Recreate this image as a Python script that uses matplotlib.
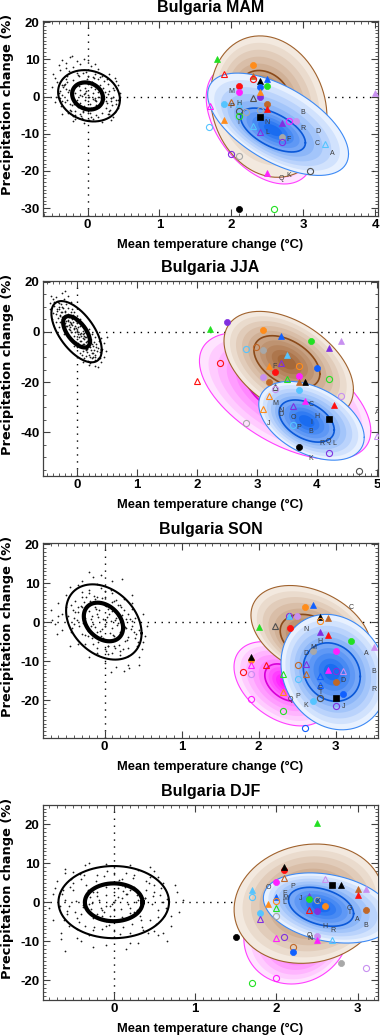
import numpy as np
import matplotlib
matplotlib.use('Agg')
import matplotlib.pyplot as plt
import matplotlib.colors as mcolors
from matplotlib.ticker import MultipleLocator

plt.rcParams['font.family'] = ['Liberation Sans', 'DejaVu Sans']
plt.rcParams['axes.unicode_minus'] = False

# --------------------------
# Marker colour codes
# --------------------------
COLORS = {'k': '#000000', 'r': '#ff1010', 'o': '#ff8c1a', 'g': '#22e022',
          'b': '#1060ff', 'c': '#55c4ff', 'p': '#8030e0', 'l': '#c890f0',
          'm': '#ff20ff', 'n': '#c06828', 'a': '#a8a8a8', 'd': '#505050'}

# --------------------------
# MAM
# --------------------------
mam_mx = [1.80, 1.90, 1.70, 1.69, 1.90, 2.30, 2.30, 2.30, 2.40, 2.50, 2.40, 2.50, 2.10, 2.10,
          2.30, 2.40, 2.40, 2.50, 2.50, 1.90, 2.00, 2.10, 2.10, 2.10, 2.20, 2.40, 2.40, 2.30,
          2.40, 2.70, 2.80, 2.90, 2.70, 2.70, 3.30, 2.00, 2.10, 2.50, 3.10, 2.10, 2.60, 4.00]
mam_my = [10.0, 6.0, -2.6, -8.3, -6.4, 8.6, 5.5, 4.6, 4.2, 4.7, 2.5, 2.8, 2.7, 1.3,
          -0.4, 0.0, 1.2, -2.1, -3.3, -2.1, -1.5, -2.1, -3.9, -5.1, -4.2, -3.6, -5.5, -7.9,
          -9.4, -7.1, -6.6, -6.7, -10.8, -12.1, -12.7, -15.4, -16.1, -20.5, -20.1, -30.3, -30.3, 1.0]
mam_ms = ['g^f', 'r^e', 'm^e', 'coe', 'o^f', 'oof', 'n^f', 'roe', 'k^f', 'b^f', 'bof', 'gof', 'rof', 'mof',
          'd^e', 'pof', 'o^f', 'nof', 'r^f', 'cof', 'n^e', 'c^e', 'doe', 'goe', 'aoe', 'aoe', 'ksf', 'c^e',
          'p^e', 'p^f', 'moe', 'lof', 'aof', 'poe', 'c^e', 'poe', 'aoe', 'm^f', 'doe', 'kof', 'goe', 'l^f']
mam_lt = ['M', 'P', 'H', 'I', 'N', 'L', 'F', 'B', 'R', 'D', 'C', 'A', 'Q', 'K']
mam_lx = [2.00, 2.00, 2.10, 2.10, 2.50, 2.50, 2.80, 3.00, 3.00, 3.20, 3.20, 3.40, 2.70, 2.80]
mam_ly = [1.3, -2.6, -2.0, -7.1, -7.1, -9.7, -11.6, -4.4, -8.5, -9.4, -12.7, -15.4, -21.9, -21.3]
mam_cx = [0.0, -0.1, 0.1, 0.05, -0.15, 0.15, -0.05, 0.12, -0.12, 0.02, 0.08, -0.08, 0.18, -0.18, 0.0,
          0.05, -0.02, 0.1, -0.1, 0.14, -0.3, -0.32, 0.3, 0.32, -0.2, 0.15, 0.0, -0.1, 0.2, 0.05,
          -0.35, 0.36, -0.25, 0.28, 0.25, -0.28, -0.4, 0.4, 0.1, -0.15, -0.45, -0.38, -0.3, -0.25,
          -0.15, -0.05, -0.2, -0.4, -0.48, 0.05, 0.0, 0.3, 0.42, 0.45, 0.43, 0.35, -0.05, -0.2,
          -0.45, -0.5, 0.2, 0.38, -0.35, 0.22, -0.22, 0.06, -0.06, 0.33, -0.33, 0.1,
          -0.05, 0.07, -0.13, 0.13, -0.22, 0.22, -0.27, 0.27, -0.33, 0.33, -0.37, 0.37, 0.0, 0.0,
          -0.08, 0.08, -0.17, 0.17, -0.02, 0.02, -0.24, 0.24, -0.3, 0.3, -0.12, 0.12, -0.38, 0.38,
          0.04, -0.04, -0.2, 0.2, -0.28, 0.28, -0.42, -0.35, -0.3, -0.22, -0.1, 0.15, 0.3, 0.4,
          0.32, -0.44, -0.18, 0.1, -0.36, 0.42, 0.0, -0.26,
          0.01, -0.03, 0.06, -0.07, 0.11, -0.11, 0.16, -0.16, 0.19, -0.19, 0.23, -0.23, 0.26, -0.26,
          0.29, -0.29, 0.34, -0.34, 0.09, -0.09, 0.03, -0.01, 0.14, -0.14, 0.21, -0.21, 0.31, -0.31,
          0.36, -0.36, 0.07, -0.06, 0.17, -0.17, 0.27, -0.27, 0.39, -0.39, 0.12, -0.04]
mam_cy = [0.5, 1.8, -1.0, 2.5, -0.8, 1.2, -2.5, -2.2, 2.8, -0.2, 0.9, 0.2, -0.3, 1.0, 3.3,
          -3.1, 1.4, 2.0, -1.7, 0.0, 2.0, -1.5, 1.5, -1.2, 4.5, 4.8, 5.5, -4.8, -4.3, -5.5,
          0.5, 0.0, -3.5, 3.5, -3.0, 3.8, 1.0, -2.0, 6.0, 6.2, 5.0, 7.0, 9.0, 10.5,
          9.5, 10.2, 8.0, 8.5, 6.0, 8.2, 9.8, 6.0, 3.0, 1.0, -3.0, -5.5, -7.0, -6.5,
          -1.5, 2.5, -6.8, 5.0, -4.8, 2.2, -2.4, 4.0, -4.2, -0.5, 3.0, -0.8,
          0.8, -0.6, -2.9, 2.6, 0.4, -0.7, 1.3, -1.8, 3.2, -0.5, -2.6, 1.8, -4.5, 4.0,
          -5.8, 5.2, -3.8, 3.0, 6.5, -6.2, -1.9, 1.2, 4.8, -4.6, 5.6, -5.0, -0.3, -4.2,
          -1.9, 2.2, -5.2, 5.6, 5.6, -4.8, 3.8, 9.8, 7.8, 10.8, 8.8, 7.5, -3.8, 4.2,
          -6.2, 0.0, -5.9, 8.7, 3.0, -1.0, -6.4, 6.8,
          -1.2, 1.0, 3.9, -3.9, -0.5, 0.4, -2.8, 2.9, 1.9, -1.9, 4.1, -4.0, -1.1, 1.7,
          0.8, -0.9, -2.3, 2.6, 5.0, -5.1, -4.4, 4.6, -5.4, 5.8, -0.2, 0.0, -3.6, 3.3,
          2.4, -1.1, -6.0, 6.3, 5.2, -4.9, 4.6, -4.3, -0.9, 1.4, -1.3, -1.0]
mam_ell = {'black_out': (0.02, 0.2, 0.43, 6.9, -0.15), 'black_in': (0.0, 0.15, 0.215, 3.65, -0.15),
           'mag_out': (2.40, -7.5, 0.75, 16.0, -0.45), 'mag_in': (2.45, -8.0, 0.35, 7.5, -0.45),
           'brn_out': (2.52, -2.7, 0.81, 19.0, -0.15), 'brn_in': (2.47, 0.5, 0.35, 6.5, -0.25),
           'blu_out': (2.65, -7.45, 0.98, 13.75, -0.58), 'blu_in': (2.58, -9.0, 0.45, 5.9, -0.58)}

# --------------------------
# JJA
# --------------------------
jja_mx = [2.21, 2.50, 2.00, 2.39, 2.81, 2.99, 3.10, 3.10, 3.40, 3.90, 4.20, 4.40, 3.50, 3.40,
          3.20, 3.30, 3.70, 4.00, 3.10, 3.20, 3.50, 3.70, 3.80, 3.70, 4.20, 3.30, 3.30, 3.70,
          3.20, 3.10, 3.80, 3.60, 4.29, 4.40, 4.20, 3.60, 2.81, 3.70, 4.20, 4.70, 5.00]
jja_my = [1.1, 4.0, -19.4, -12.5, -6.9, -5.9, -7.3, 0.7, -1.6, -3.6, -6.5, -3.6, -9.2, -12.5,
          -13.5, -15.8, -13.6, -14.4, -18.1, -19.8, -18.7, -17.7, -19.8, -20.1, -18.7, -21.8, -22.7, -23.0,
          -25.7, -30.6, -27.6, -29.6, -29.0, -25.6, -34.6, -37.2, -36.2, -45.8, -48.2, -55.4, -41.5]
jja_ms = ['g^f', 'pof', 'r^e', 'roe', 'coe', 'noe', 'aof', 'oof', 'b^f', 'gof', 'p^f', 'l^f', 'c^f', 'p^e',
          'o^f', 'rof', 'ooe', 'bof', 'lof', 'nof', 'g^e', 'mof', 'k^f', 'n^f', 'goe', 'd^e', 'loe', 'cof',
          'o^e', 'o^e', 'm^f', 'p^e', 'r^f', 'loe', 'ksf', 'coe', 'aoe', 'kof', 'poe', 'doe', 'l^e']
jja_lt = ['F', 'M', 'N', 'D', 'C', 'H', 'O', 'I', 'P', 'B', 'J', 'R', 'Q', 'L', 'K', 'A']
jja_lx = [3.30, 3.30, 3.40, 3.40, 3.90, 4.00, 3.60, 3.90, 3.70, 3.90, 3.20, 4.09, 4.20, 4.29, 3.90, 5.00]
jja_ly = [-13.7, -28.6, -31.3, -32.9, -28.9, -33.5, -34.2, -36.2, -37.9, -39.6, -36.6, -44.5, -43.6,
          -44.5, -50.4, -32.2]
jja_cx = [0.0, -0.1, 0.1, -0.05, 0.05, -0.15, 0.15, -0.2, 0.2, 0.0, 0.0, -0.1, 0.1, -0.08, 0.08,
          0.12, -0.12, 0.05, -0.05, 0.18, -0.18, 0.02, -0.02, -0.3, -0.35, -0.25, -0.2, -0.28, -0.15,
          0.3, 0.35, 0.25, 0.2, 0.28, 0.15, 0.1, -0.1, 0.3, -0.3, 0.2, -0.22, 0.38, -0.38, 0.05,
          -0.05, -0.4, -0.35, -0.25, -0.15, -0.45, -0.42, -0.2, 0.45, 0.4, 0.3, 0.2, 0.45, 0.5,
          0.4, 0.35, 0.1, -0.1, 0.12, 0.25, -0.45, -0.25, 0.22, -0.12, 0.15, -0.32,
          -0.02, 0.03, -0.07, 0.07, -0.13, 0.13, -0.17, 0.17, -0.23, 0.23, -0.27, 0.27, -0.33, 0.33,
          -0.1, 0.1, -0.2, 0.2, 0.0, 0.05, -0.05, -0.15, 0.15, -0.25, 0.25, -0.3, 0.3, -0.38,
          0.38, -0.4, 0.42, -0.32, 0.32, -0.08, 0.08, -0.18, 0.18, 0.0, -0.12, 0.12, -0.28, 0.28,
          0.48, -0.43, 0.36, -0.36, 0.22, -0.22, 0.14, -0.14,
          0.01, -0.03, 0.06, -0.06, 0.11, -0.11, 0.16, -0.16, 0.21, -0.21, 0.26, -0.26, 0.31, -0.31,
          0.09, -0.09, 0.14, -0.14, 0.19, -0.19, 0.24, -0.24, 0.29, -0.29, 0.04, -0.04, 0.34, -0.34,
          0.12, -0.12, 0.17, -0.17, 0.07, -0.07, 0.27, -0.27, 0.02, -0.02, 0.22, -0.22]
jja_cy = [0.5, 3.0, -2.5, 1.5, -1.0, 4.5, -4.0, 5.5, -5.0, 3.5, -3.0, 0.0, 0.5, 5.0, -5.2,
          -1.5, 2.0, 2.2, -1.8, -2.2, 2.5, -4.5, 4.2, 9.0, 7.0, 10.0, 8.5, 4.0, 9.5,
          -9.0, -6.5, -10.5, -9.0, -4.0, -9.5, -7.5, 7.8, -2.0, 2.0, 1.0, -1.0, -8.0, 10.5, -8.5,
          8.0, 13.0, 14.0, 15.5, 14.5, 9.0, 5.0, 16.5, -10.0, -12.0, -13.5, -13.0, -4.5, -2.0,
          -2.5, -14.0, -12.0, 12.0, -10.5, -1.0, 11.5, 6.0, -6.0, 6.5, -6.8, 12.0,
          1.5, -2.0, 3.8, -3.5, 2.8, -2.2, 6.5, -6.8, 6.0, -7.0, 11.0, -10.0, 8.5, -7.5,
          5.8, -4.8, 3.5, -3.0, -6.0, 5.0, -5.5, 7.0, -7.2, 8.0, -8.2, 11.5, -11.0, 12.0,
          -10.5, 7.5, -6.8, 5.5, -5.0, 9.0, -9.2, 11.2, -11.5, 0.0, 0.8, -0.5, 6.5, -7.0,
          -7.5, 14.5, -3.5, 3.8, -12.5, 13.0, -2.0, 1.0,
          -0.8, 2.2, -0.5, 1.0, -4.8, 3.6, -3.5, 4.8, -4.2, 7.8, -8.5, 5.0, -6.0, 10.0,
          -1.0, 2.8, -6.5, 6.0, -1.5, 4.5, -5.0, 9.5, -9.8, 6.8, -3.5, -0.2, -10.5, 9.2,
          -3.0, 4.0, -8.0, 2.5, -1.8, 6.8, -5.5, 8.0, 2.0, -4.0, -10.0, 3.0]
jja_ell = {'black_out': (-0.01, 0.1, 0.42, 12.2, -0.6), 'black_in': (-0.01, 0.05, 0.224, 6.25, -0.6),
           'mag_out': (3.47, -25.5, 1.43, 25.3, -0.55), 'mag_in': (3.50, -24.0, 0.70, 12.0, -0.55),
           'brn_out': (3.53, -13.3, 1.08, 21.5, -0.45), 'brn_in': (3.50, -12.0, 0.55, 10.5, -0.45),
           'blu_out': (3.91, -35.4, 0.88, 15.7, -0.42), 'blu_in': (3.83, -35.5, 0.46, 8.4, -0.42)}

# --------------------------
# SON
# --------------------------
son_mx = [2.60, 2.70, 2.40, 2.40, 2.50, 2.21, 2.01, 2.41, 2.80, 2.80, 2.90, 2.80, 2.90, 3.20, 2.71,
          3.00, 3.50, 1.90, 1.90, 1.90, 2.10, 1.80, 1.90, 2.31, 2.51, 2.61, 2.51, 2.61, 2.80, 2.80,
          2.90, 3.00, 3.10, 3.00, 2.31, 2.80, 3.00, 3.10, 2.70, 3.00, 1.90, 2.31, 2.60]
son_my = [3.9, 4.3, 1.7, 1.5, 1.5, -0.9, -1.2, -1.6, 1.4, 0.4, 1.1, -2.5, -3.2, -4.7, -7.3,
          -7.3, -6.3, -9.6, -9.0, -11.1, -11.1, -12.7, -13.4, -13.2, -11.1, -10.6, -14.5, -13.4, -13.8, -16.2,
          -12.3, -12.6, -12.6, -15.3, -17.9, -19.4, -19.4, -18.3, -20.1, -21.5, -19.8, -22.8, -27.1]
son_ms = ['oof', 'b^f', 'poe', 'c^f', 'lof', 'd^e', 'g^f', 'rof', 'k^f', 'ooe', 'n^f', 'p^f', 'r^f', 'gof', 'aof',
          'mof', 'l^f', 'oof', 'k^f', 'm^e', 'r^e', 'roe', 'loe', 'g^e', 'noe', 'p^e', 'coe', 'n^e', 'b^e', 'b^e',
          'm^f', 'poe', 'l^e', 'nof', 'o^e', 'doe', 'ksf', 'bof', 'cof', 'poe', 'moe', 'goe', 'boe']
son_lt = ['C', 'N', 'H', 'M', 'D', 'A', 'B', 'D', 'E', 'I', 'R', 'Q', 'P', 'K', 'J']
son_lx = [3.20, 2.61, 2.80, 2.71, 2.61, 3.40, 3.50, 3.10, 2.80, 2.80, 3.50, 2.41, 2.51, 2.61, 3.10]
son_ly = [3.7, -1.9, -5.0, -6.4, -8.0, -8.0, -12.7, -15.0, -17.0, -18.1, -17.3, -19.8, -19.0, -21.4, -21.5]
son_cx = [0.0, -0.1, 0.1, 0.15, -0.15, 0.05, -0.05, 0.2, -0.2, 0.0, 0.08, -0.08, 0.18, -0.18, 0.1,
          -0.1, 0.02, -0.02, 0.12, -0.12, -0.35, -0.4, -0.3, -0.2, 0.0, 0.2, 0.35, 0.4, 0.3, 0.1,
          -0.1, -0.3, 0.3, -0.25, 0.2, -0.42, 0.42, -0.1, 0.05, 0.35, -0.38, 0.25, -0.6, -0.7,
          -0.65, -0.55, -0.5, -0.45, -0.3, -0.15, -0.2, 0.1, 0.35, 0.5, 0.55, 0.5, 0.45, 0.3,
          0.25, 0.0, -0.2, -0.45, 0.15, -0.1, -0.6, 0.45, -0.5, 0.28, -0.28, 0.12,
          0.03, -0.03, 0.07, -0.07, 0.13, -0.13, 0.17, -0.17, 0.22, -0.22, 0.27, -0.27, 0.33, -0.33,
          0.38, -0.38, 0.43, -0.43, 0.0, 0.0, 0.1, -0.1, 0.2, -0.2, 0.3, -0.3, 0.15, -0.15,
          0.25, -0.25, 0.35, -0.35, 0.05, -0.05, 0.4, -0.4, 0.45, -0.47, 0.12, -0.12, -0.55, -0.62,
          0.52, 0.48, -0.35, 0.22, -0.05, 0.32, -0.68, 0.08,
          0.01, -0.02, 0.06, -0.06, 0.11, -0.11, 0.16, -0.16, 0.21, -0.21, 0.26, -0.26, 0.31, -0.31,
          0.36, -0.36, 0.41, -0.41, 0.09, -0.09, 0.04, -0.04, 0.14, -0.14, 0.19, -0.19, 0.24, -0.24,
          0.29, -0.29, 0.34, -0.34, 0.08, -0.08, 0.18, -0.18, 0.28, -0.28, 0.02, -0.44]
son_cy = [0.5, 2.0, -1.5, 1.0, -0.5, 3.5, -3.5, -2.5, 2.8, -1.0, 0.2, 1.2, -0.2, 0.8, 2.8,
          -2.5, 4.2, -4.0, -3.5, 3.8, 4.0, 1.0, 6.5, 7.5, 8.0, 4.5, -1.0, -4.0, -6.5, -8.0,
          -6.5, -3.0, 2.0, -5.5, -7.5, -1.5, -6.0, 6.5, -6.0, 3.5, 5.5, 6.0, 5.0, 3.0,
          -0.5, -2.0, 7.0, 9.0, 10.5, 11.5, 12.8, 10.5, 7.0, 2.0, -1.0, -5.0, -9.0, -11.0,
          -12.5, -10.5, -9.0, -6.0, -11.5, 9.8, 1.5, -11.0, 4.0, 0.8, -0.2, 5.5,
          1.2, -1.8, -2.8, 3.0, 0.5, -1.2, 4.5, -4.0, 1.8, -2.2, -4.8, 5.2, 0.8, -1.0,
          -2.5, 2.5, -5.0, 4.5, 6.5, -6.8, 7.5, -7.8, -8.5, 8.2, -8.8, 7.8, 5.8, -5.5,
          3.2, -3.2, 5.0, -5.5, -8.2, 8.8, 1.0, -0.5, -2.0, 1.5, -6.2, 6.0, 2.0, -3.0,
          -3.5, -7.0, 9.5, 11.0, 12.0, -11.8, 0.5, -12.8,
          -0.5, 0.8, 2.0, -2.2, -3.2, 3.4, -0.8, 1.6, 3.8, -3.6, -1.2, 1.0, -3.8, 4.2,
          0.2, 0.5, -3.0, 3.2, 5.2, -5.0, -6.0, 6.2, -6.5, 6.8, -5.8, 5.5, -6.8, 6.5,
          -4.5, 3.8, -1.8, 2.5, 8.2, -8.4, 1.5, -1.0, -1.5, 2.2, -7.5, -2.5]
son_ell = {'black_out': (-0.01, 0.05, 0.49, 9.65, -0.3), 'black_in': (-0.015, 0.05, 0.255, 4.95, -0.3),
           'mag_out': (2.30, -15.8, 0.62, 10.8, -0.4), 'mag_in': (2.35, -15.5, 0.27, 4.8, -0.4),
           'brn_out': (2.68, -2.3, 0.78, 11.7, -0.35), 'brn_in': (2.68, -4.0, 0.40, 6.0, -0.3),
           'blu_out': (2.98, -12.8, 0.69, 14.8, -0.15), 'blu_in': (2.95, -12.8, 0.37, 7.5, -0.15)}

# --------------------------
# DJF
# --------------------------
djf_mx = [2.50, 2.10, 2.10, 2.10, 2.00, 2.60, 2.69, 2.80, 3.00, 3.10, 3.00, 1.70, 1.70, 2.00, 2.00,
          1.90, 2.00, 2.00, 1.80, 1.80, 2.40, 2.40, 2.50, 2.60, 2.40, 2.50, 3.10, 2.00, 2.10, 2.50,
          2.50, 2.69, 2.20, 2.20, 1.50, 2.80, 3.10, 2.00, 1.70]
djf_my = [20.4, 8.2, 9.0, 6.3, 5.1, 5.8, 4.3, 4.3, 3.4, 3.4, 1.7, 3.1, 1.2, 1.4, 0.3,
          -0.5, -1.6, -3.6, -2.9, -4.4, 1.5, 0.9, 0.5, -0.9, -2.1, -2.3, -1.9, -9.3, -8.9, -8.7,
          -9.6, -9.7, -11.5, -12.7, -8.9, -15.7, -16.8, -19.4, -20.7]
djf_ms = ['g^f', 'rof', 'k^f', 'n^e', 'mof', 'l^e', 'ksf', 'k^f', 'n^f', 'l^f', 'r^f', 'c^f', 'coe', 'b^f', 'ooe',
          'o^f', 'g^e', 'aoe', 'cof', 'p^e', 'p^f', 'gof', 'aoe', 'oof', 'r^e', 'pof', 'nof', 'm^e', 'poe', 'lof',
          'm^f', 'c^e', 'noe', 'bof', 'kof', 'aof', 'loe', 'moe', 'goe']
djf_lt = ['O', 'P', 'E', 'M', 'L', 'J', 'K', 'G', 'I', 'A', 'B', 'H', 'R', 'Q', 'N']
djf_lx = [1.90, 2.20, 2.10, 2.11, 2.10, 2.30, 2.51, 2.90, 2.90, 3.00, 3.10, 2.60, 2.69, 2.41, 2.41]
djf_ly = [3.8, 4.1, 2.2, 0.9, 0.0, 0.9, 0.1, -1.6, -2.6, -4.4, -6.1, -6.3, -7.4, -8.5, -9.3]
djf_cx = [0.0, -0.2, 0.2, 0.15, -0.15, 0.3, -0.3, 0.05, -0.05, 0.25, -0.25, 0.1, -0.1, 0.2, -0.2,
          0.0, 0.0, 0.1, -0.1, 0.28, -0.28, -0.5, -0.55, 0.5, 0.55, -0.4, 0.4, -0.35, 0.35, 0.0,
          0.0, -0.2, 0.2, 0.25, -0.25, -0.6, 0.6, 0.45, -0.45, 0.1, -0.1, 0.5, -0.5, -0.75,
          -0.8, -0.7, -0.6, -0.35, -0.1, 0.2, 0.5, 0.75, 0.85, 0.8, 0.7, 0.55, 0.2, -0.1,
          -0.4, -0.65, -0.75, -0.6, 0.15, -0.25, 0.65, 0.38, -0.38, 0.62, -0.62, 0.05,
          0.05, -0.05, 0.12, -0.12, 0.18, -0.18, 0.25, -0.25, 0.32, -0.32, 0.38, -0.38, 0.45, -0.45,
          0.52, -0.52, 0.58, -0.58, 0.64, -0.64, 0.0, 0.08, -0.08, 0.15, -0.15, 0.22, -0.22, 0.3,
          -0.3, 0.42, -0.42, 0.48, -0.48, 0.35, -0.35, 0.55, -0.55, 0.1, -0.1, 0.7, -0.72, 0.78,
          -0.65, 0.3, -0.3, 0.6, -0.6, 0.0, 0.45, -0.45,
          0.02, -0.02, 0.09, -0.09, 0.14, -0.14, 0.2, -0.2, 0.27, -0.27, 0.34, -0.34, 0.4, -0.4,
          0.47, -0.47, 0.54, -0.54, 0.61, -0.61, 0.06, -0.06, 0.12, -0.12, 0.24, -0.24, 0.36, -0.36,
          0.5, -0.5, 0.66, -0.66, 0.16, -0.16, 0.29, -0.29, 0.43, -0.43, 0.57, -0.57]
djf_cy = [0.0, 1.5, -1.5, 2.0, -2.0, 0.5, -0.5, 3.5, -3.5, -2.5, 2.5, 1.0, -1.0, 3.0, -3.0,
          -2.0, 2.5, -3.8, 3.8, 1.8, -1.8, 3.0, -1.0, 2.5, -2.0, 6.0, 5.5, -6.0, -6.5, 7.5,
          -7.5, 7.0, -7.8, 7.0, -7.2, 0.5, 0.0, -4.5, -4.0, 6.0, -6.0, 4.5, 5.0, 2.0,
          -1.5, 5.5, 7.5, 9.5, 9.8, 9.5, 8.0, 4.5, 0.5, -2.5, -6.0, -8.5, -10.5, -11.0,
          -10.0, -8.0, -4.5, -12.5, -12.0, -11.5, -10.0, 1.0, -0.8, -3.5, 3.2, 5.2,
          1.2, -1.0, 2.8, -2.6, -0.5, 0.5, 4.0, -4.2, -3.5, 3.2, 1.0, -1.2, 6.5, -6.8,
          -5.5, 5.8, 3.5, -3.0, -1.5, 2.0, -4.5, -8.2, 8.0, 7.5, -7.0, -5.5, 5.5, 8.2,
          -8.5, -7.8, 7.2, 1.5, -2.5, -1.0, 0.8, 6.5, -6.0, 4.5, -4.8, -3.5, 3.5, 2.5,
          -9.5, -10.5, 10.0, -8.0, 8.5, -9.0, 9.0, -9.2,
          0.6, -0.6, -1.8, 1.9, 3.8, -3.6, -2.8, 2.6, 0.0, -0.2, -4.5, 4.4, 3.2, -3.0,
          -0.5, 0.4, -3.8, 3.9, 4.8, -4.6, 5.6, -5.8, -6.5, 6.8, 6.2, -6.4, -7.2, 7.0,
          -7.5, 7.8, 0.8, -0.9, 2.2, -1.5, -2.0, 1.2, 5.0, -5.2, 1.8, -2.2]
djf_ell = {'black_out': (0.0, 0.0, 0.68, 9.25, 0.0), 'black_in': (0.0, -0.05, 0.355, 4.85, 0.0),
           'mag_out': (2.25, -8.0, 0.65, 13.0, 0.1), 'mag_in': (2.30, -9.0, 0.30, 6.0, 0.1),
           'brn_out': (2.40, -0.4, 0.92, 15.3, 0.1), 'brn_in': (2.45, -0.5, 0.45, 7.5, 0.0),
           'blu_out': (2.64, -1.5, 0.80, 9.0, -0.28), 'blu_in': (2.55, -1.2, 0.40, 5.0, -0.35)}


def ellipse_path(p, k=1.0):
    cx, cy, dx, dy, r = p
    t = np.linspace(0, 2 * np.pi, 181)
    x = cx + k * dx * np.cos(t)
    y = cy + k * dy * (r * np.cos(t) + np.sqrt(1 - r * r) * np.sin(t))
    return x, y


def shaded(ax, outer, inner, c_light, c_dark, c_edge, c_line, z, n=10):
    c0 = np.array(mcolors.to_rgb(c_light))
    c1 = np.array(mcolors.to_rgb(c_dark))
    half = n // 2
    for i in range(n):
        col = c0 + (c1 - c0) * i / (n - 1)
        if i < half:
            g = i / half
            p = tuple(o + (q - o) * g for o, q in zip(outer, inner))
            k = 1.0
        else:
            p = inner
            k = 1.0 - 0.9 * (i - half) / (n - half)
        x, y = ellipse_path(p, k)
        ax.fill(x, y, color=col, lw=0, zorder=z)
    ax.plot(*ellipse_path(outer), color=c_edge, lw=0.8, zorder=z + 0.1)
    ax.plot(*ellipse_path(inner), color=c_line, lw=1.2, zorder=z + 0.1)


def draw_panel(ax, title, xlim, ylim, xticks, yticks, yminor,
               cx, cy, ell, mx, my, ms, lt, lx, ly):
    ax.axhline(0, color='black', ls=(0, (1, 4)), lw=1.0, zorder=1)
    ax.axvline(0, color='black', ls=(0, (1, 4)), lw=1.0, zorder=1)

    ax.scatter(cx, cy, s=1.6, color='#1a1a1a', lw=0, zorder=2)
    ax.plot(*ellipse_path(ell['black_out']), color='black', lw=1.5, zorder=3)
    ax.plot(*ellipse_path(ell['black_in']), color='black', lw=3.0, zorder=3)

    shaded(ax, ell['mag_out'], ell['mag_in'], '#ffe4ff', '#ff10ff', '#ff40ff', '#d800d8', 4)
    shaded(ax, ell['brn_out'], ell['brn_in'], '#f3e9df', '#a4683a', '#a0622d', '#8a4a1a', 5)
    shaded(ax, ell['blu_out'], ell['blu_in'], '#e8f1ff', '#1a6cf0', '#3d8af5', '#0a58d8', 6)

    for x, y, s in zip(mx, my, ms):
        c = COLORS[s[0]]
        filled = s[2] == 'f'
        size = 4.0 if s[1] == 's' else 4.4
        ax.plot(x, y, marker=s[1], ms=size, ls='none', mfc=c if filled else 'none',
                mec=c, mew=0.5 if filled else 0.8, zorder=8)

    for t, x, y in zip(lt, lx, ly):
        ax.text(x, y, t, fontsize=5, color='#3a3a3a', ha='center', va='center',
                zorder=9, clip_on=True)

    ax.set_xlim(xlim)
    ax.set_ylim(ylim)
    ax.set_xticks(xticks)
    ax.set_yticks(yticks)
    ax.xaxis.set_minor_locator(MultipleLocator(0.1))
    ax.yaxis.set_minor_locator(MultipleLocator(yminor))
    ax.tick_params(which='both', direction='in', top=True, right=True, color='#404040')
    ax.tick_params(which='major', length=5, width=0.8, labelsize=9.5, pad=2.5)
    ax.tick_params(which='minor', length=2.5, width=0.6)
    for lab in ax.get_xticklabels() + ax.get_yticklabels():
        lab.set_fontweight('bold')
    for sp in ax.spines.values():
        sp.set_color('#404040')
        sp.set_linewidth(0.9)

    ax.set_xlabel('Mean temperature change (\u00b0C)', fontsize=9.3, fontweight='bold')
    ax.set_ylabel('Precipitation change (%)', fontsize=9.4, fontweight='bold',
                  family=['DejaVu Sans'])
    ax.xaxis.set_label_coords(0.5, -0.118)
    ax.yaxis.set_label_coords(-0.088, 0.572)
    ax.text(0.5, 1.067, title, transform=ax.transAxes, ha='center', va='center',
            fontsize=11.5, fontweight='bold')


fig = plt.figure(figsize=(3.8, 10.35), dpi=100)
W, H = 380, 1035

panels = [
    ('Bulgaria MAM', 21, (-0.62, 4.04), (-32.1, 20.3), [0, 1, 2, 3, 4], [-30, -20, -10, 0, 10, 20], 1,
     mam_cx, mam_cy, mam_ell, mam_mx, mam_my, mam_ms, mam_lt, mam_lx, mam_ly),
    ('Bulgaria JJA', 281, (-0.57, 5.02), (-57.4, 20.3), [0, 1, 2, 3, 4, 5], [-40, -20, 0, 20], 5,
     jja_cx, jja_cy, jja_ell, jja_mx, jja_my, jja_ms, jja_lt, jja_lx, jja_ly),
    ('Bulgaria SON', 543, (-0.80, 3.55), (-29.7, 20.3), [0, 1, 2, 3], [-20, -10, 0, 10, 20], 1,
     son_cx, son_cy, son_ell, son_mx, son_my, son_ms, son_lt, son_lx, son_ly),
    ('Bulgaria DJF', 805, (-0.87, 3.25), (-25.1, 24.9), [0, 1, 2, 3], [-20, -10, 0, 10, 20], 1,
     djf_cx, djf_cy, djf_ell, djf_mx, djf_my, djf_ms, djf_lt, djf_lx, djf_ly),
]

for p in panels:
    top = p[1]
    ax = fig.add_axes([43 / W, (H - top - 195) / H, 335 / W, 195 / H])
    draw_panel(ax, p[0], *p[2:])

fig.savefig('out.png', dpi=100)
